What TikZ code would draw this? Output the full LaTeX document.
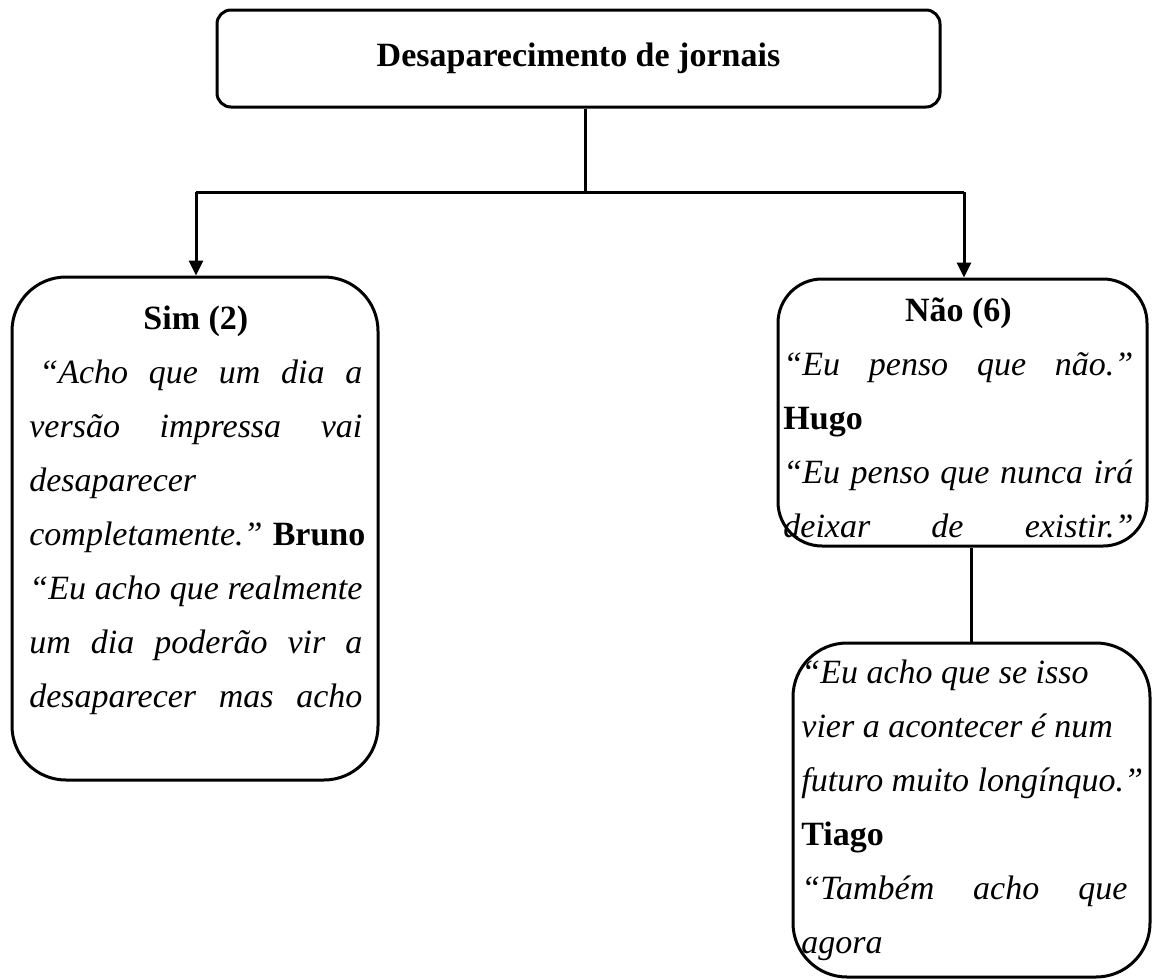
\documentclass[tikz,border=0pt]{standalone}
\usepackage{fontspec}
\setmainfont{Liberation Serif}
\usetikzlibrary{positioning, arrows.meta}

\newcommand{\quotespaces}{\spaceskip=.25em\relax\xspaceskip=.3em\relax}
\newcommand{\spreadline}[1]{{\spaceskip=.25em plus 1fil\relax
    \xspaceskip=.25em plus 1fil\relax\makebox[\linewidth][s]{#1}}}

\begin{document}
\begin{tikzpicture}[
    x=0.5pt, y=-0.5pt,
    box/.style={draw, line width=1.5pt, rounded corners=#1, inner sep=0pt,
        font=\fontsize{17}{27}\selectfont},
    box/.default=27pt,
    quote/.style={anchor=base west, inner sep=0pt,
        font=\fontsize{17}{27}\selectfont\itshape},
    line/.style={line width=1.5pt},
    arrow/.style={line, -{Triangle[length=7.5pt, width=7pt]}}]

\useasboundingbox (0,0) rectangle (1152,980);

% Root box
\node[box=7pt, minimum width=361.5pt, minimum height=48.5pt] (title) at (578.5,58.5)
    {\bfseries Desaparecimento de jornais};

% First level
\node[box, minimum width=183pt, minimum height=251.5pt] (sim) at (195,528.5) {};
\node[box=22pt, minimum width=184.5pt, minimum height=133.5pt] (nao) at (962.5,412.5) {};
% Second level
\node[box, minimum width=178.5pt, minimum height=167pt] (bot) at (971.5,810) {};

% Texts
\node[quote, text width=166.5pt] (simtext) at (29,329) {\quotespaces
    \makebox[\linewidth]{\upshape\bfseries Sim (2)}\\
    \spreadline{\hspace{5pt}“Acho que um dia a}\\
    \spreadline{versão impressa vai}\\
    \mbox{desaparecer}\\
    \mbox{completamente.” {\upshape\bfseries Bruno}}\\
    \spreadline{“Eu acho que realmente}\\
    \spreadline{um dia poderão vir a}\\
    \spreadline{desaparecer mas acho}};
\node[quote, text width=175pt] (naotext) at (783,321) {\quotespaces
    \makebox[\linewidth]{\upshape\bfseries Não (6)}\\
    \spreadline{“Eu penso que não.”}\\
    \mbox{\upshape\bfseries Hugo}\\
    \spreadline{“Eu penso que nunca irá}\\
    \spreadline{deixar de existir.”}};
\node[quote, text width=163pt] (bottext) at (801,683) {\quotespaces
    \mbox{“Eu acho que se isso}\\
    \mbox{vier a acontecer é num}\\
    \mbox{futuro muito longínquo.”}\\
    \mbox{\upshape\bfseries Tiago}\\
    \spreadline{“Também acho que}\\
    \mbox{agora}};

% Connectors
\coordinate (split) at (585,192);
\coordinate (splitL) at (196,192);
\coordinate (splitR) at (964,192);
\draw[line] (split |- title.south) -- (split);
\draw[line] (splitL) -- (splitR);
\draw[arrow] (splitL) -- (splitL |- sim.north);
\draw[arrow] (splitR) -- (splitR |- nao.north);
\draw[line] (nao.south -| bot.north) -- (bot.north);

\end{tikzpicture}
\end{document}
